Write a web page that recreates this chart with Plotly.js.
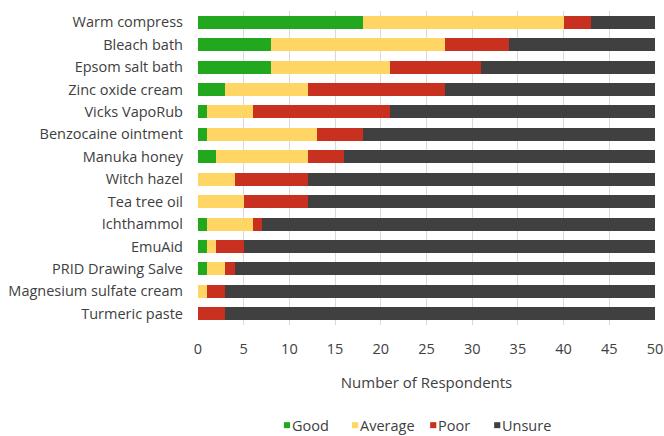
<!DOCTYPE html>
<html>
<head>
<meta charset="utf-8">
<script src="https://cdn.plot.ly/plotly-3.0.1.min.js"></script>
<style>html,body{margin:0;padding:0;background:#fff;}#chart{width:664px;height:436px;}</style>
</head>
<body>
<div id="chart"></div>
<script>
const categories = ["Warm compress","Bleach bath","Epsom salt bath","Zinc oxide cream","Vicks VapoRub","Benzocaine ointment","Manuka honey","Witch hazel","Tea tree oil","Ichthammol","EmuAid","PRID Drawing Salve","Magnesium sulfate cream","Turmeric paste"];
const good    = [18, 8, 8, 3, 1, 1, 2, 0, 0, 1, 1, 1, 0, 0];
const average = [22,19,13, 9, 5,12,10, 4, 5, 5, 1, 2, 1, 0];
const poor    = [ 3, 7,10,15,15, 5, 4, 8, 7, 1, 3, 1, 2, 3];
const unsure  = [ 7,16,19,23,29,32,34,38,38,43,45,46,47,47];
const seriesNames = ["Good","Average","Poor","Unsure"];
const colors = ["#22A81E","#FFD563","#C8301F","#404040"];
const tickVals = [0,5,10,15,20,25,30,35,40,45,50];
// legend item left edges (paper fraction of plot width)
const legendX = [0.188, 0.337, 0.508, 0.648];

const data = [good, average, poor, unsure].map((vals, i) => ({
  type: 'bar', orientation: 'h', name: seriesNames[i],
  x: vals, y: categories,
  marker: {color: colors[i], line: {width: 0}},
  hoverinfo: 'x+y+name'
}));

const fam = '"Open Sans", "DejaVu Sans", sans-serif';
const txt = '#404040';
const shapes = [], annotations = [];
seriesNames.forEach((n, i) => {
  shapes.push({type: 'rect', xref: 'paper', yref: 'paper', x0: legendX[i], x1: legendX[i] + 0.0135,
    y0: -0.3285, y1: -0.3095, fillcolor: colors[i], line: {width: 0}});
  annotations.push({text: n, xref: 'paper', yref: 'paper', x: legendX[i] + 0.016, y: -0.319,
    xanchor: 'left', yanchor: 'middle', showarrow: false, borderpad: 0,
    font: {family: fam, size: 14.5, color: txt}});
});

const layout = {
  width: 664, height: 436,
  margin: {l: 198, r: 9, t: 10.5, b: 110.5, pad: 0},
  barmode: 'stack', bargap: 0.42,
  paper_bgcolor: '#fff', plot_bgcolor: '#fff',
  font: {family: fam, size: 14.5, color: txt},
  showlegend: false,
  shapes: shapes, annotations: annotations,
  xaxis: {
    range: [0, 50], tickvals: tickVals, ticktext: tickVals.map(String),
    showgrid: true, gridcolor: '#D9D9D9', gridwidth: 1, zeroline: false,
    showline: false, ticks: '', ticklabelstandoff: 13,
    tickfont: {family: fam, size: 14.5, color: txt},
    title: {text: 'Number of Respondents', standoff: 20, font: {family: fam, size: 15, color: txt}},
    fixedrange: true
  },
  yaxis: {
    type: 'category', autorange: 'reversed',
    showgrid: false, zeroline: false, showline: false, ticks: '',
    ticklabelstandoff: 14,
    tickfont: {family: fam, size: 14.5, color: txt},
    fixedrange: true
  }
};
Plotly.newPlot('chart', data, layout, {displayModeBar: false, staticPlot: true});
</script>
</body>
</html>
